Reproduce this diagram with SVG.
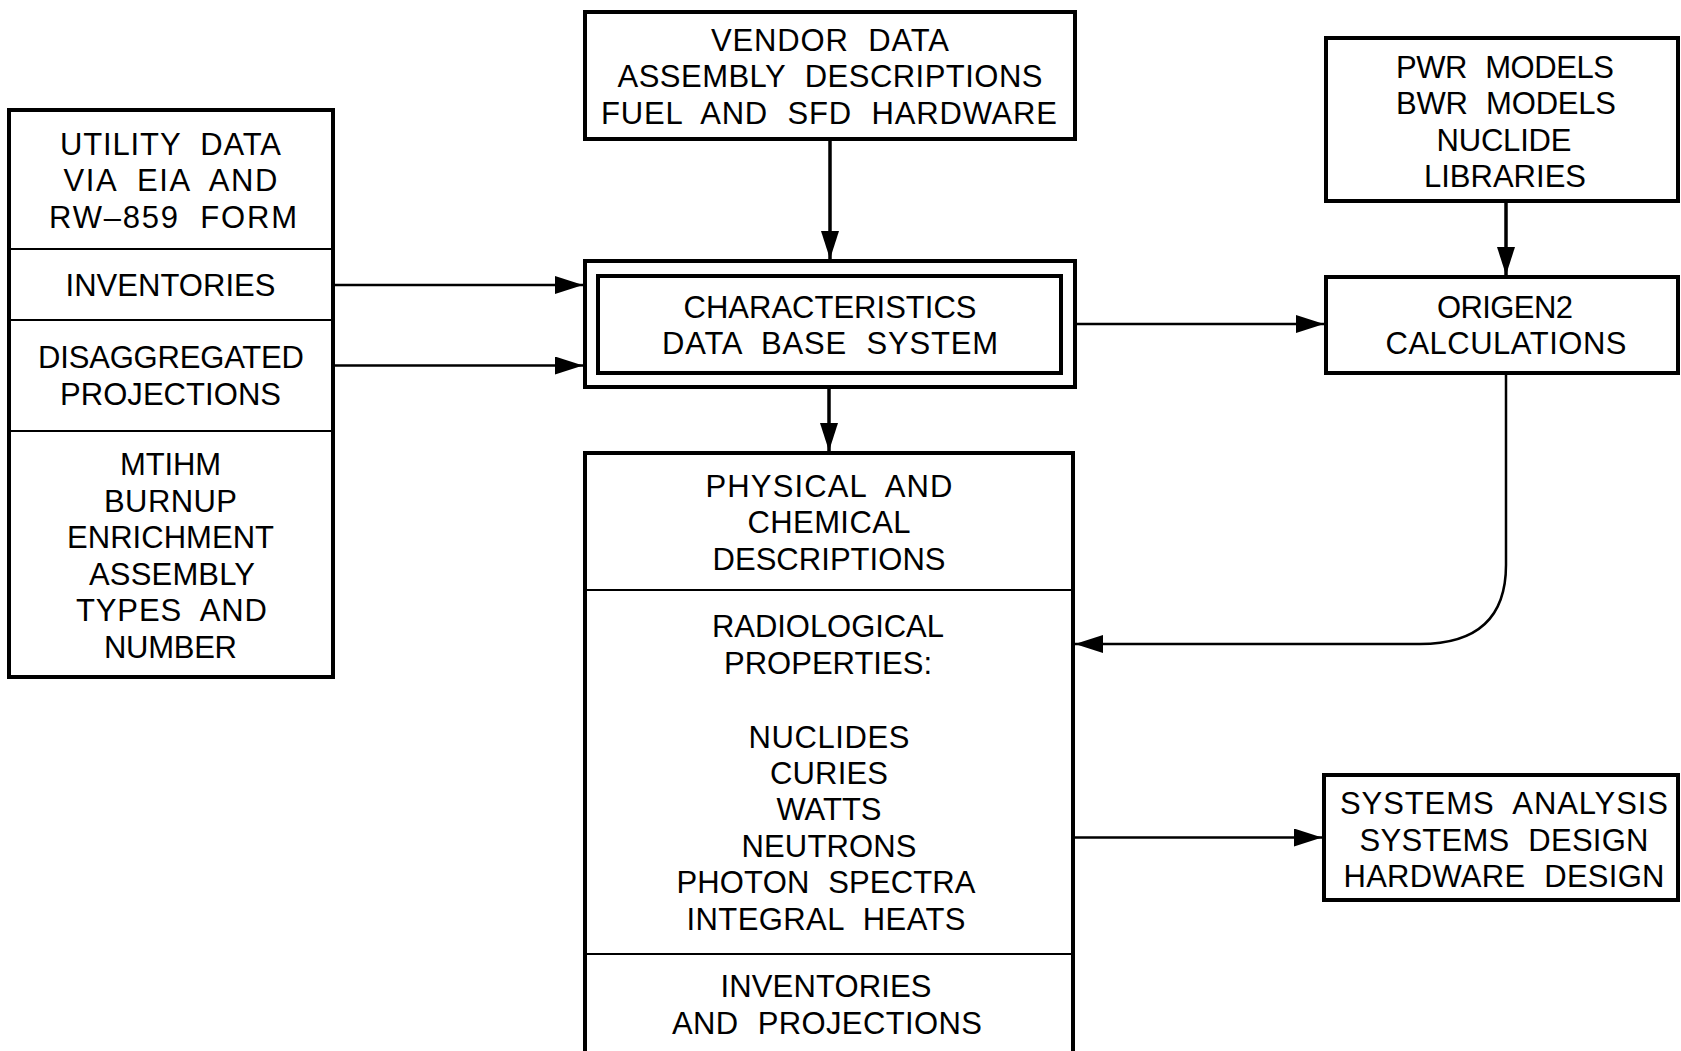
<svg xmlns="http://www.w3.org/2000/svg" width="1681" height="1051" viewBox="0 0 1681 1051">
<style>
text{font-family:"Liberation Sans",Arial,sans-serif;font-size:31px;fill:#000;text-anchor:middle;word-spacing:10px}
.box{fill:none;stroke:#000;stroke-width:4}
.div{fill:none;stroke:#000;stroke-width:2}
.c{fill:none;stroke:#000;stroke-width:2.5}
.cv{fill:none;stroke:#000;stroke-width:3.5}
</style>
<defs>
<marker id="ah" markerUnits="userSpaceOnUse" markerWidth="30" markerHeight="20" refX="28" refY="9" orient="auto">
<path d="M0,0 L28,9 L0,18 Z" fill="#000"/>
</marker>
</defs>
<rect width="1681" height="1051" fill="#fff"/>

<g id="utility">
<rect class="box" x="9" y="110" width="324" height="567"/>
<line class="div" x1="9" y1="249" x2="333" y2="249"/>
<line class="div" x1="9" y1="320" x2="333" y2="320"/>
<line class="div" x1="9" y1="431" x2="333" y2="431"/>
<text x="170.5" y="155" textLength="221" lengthAdjust="spacing">UTILITY DATA</text>
<text x="170.5" y="191" textLength="214" lengthAdjust="spacing">VIA EIA AND</text>
<text x="173" y="228" textLength="248" lengthAdjust="spacing">RW–859 FORM</text>
<text x="170.5" y="296" textLength="210" lengthAdjust="spacing">INVENTORIES</text>
<text x="171" y="368" textLength="266" lengthAdjust="spacing">DISAGGREGATED</text>
<text x="170.5" y="405" textLength="221" lengthAdjust="spacing">PROJECTIONS</text>
<text x="170.5" y="475" textLength="101" lengthAdjust="spacing">MTIHM</text>
<text x="170.5" y="512" textLength="133" lengthAdjust="spacing">BURNUP</text>
<text x="170.5" y="548" textLength="207" lengthAdjust="spacing">ENRICHMENT</text>
<text x="172" y="585" textLength="166" lengthAdjust="spacing">ASSEMBLY</text>
<text x="171.5" y="621" textLength="191" lengthAdjust="spacing">TYPES AND</text>
<text x="170.5" y="658" textLength="133" lengthAdjust="spacing">NUMBER</text>
</g>

<g id="vendor">
<rect class="box" x="585" y="12" width="490" height="127"/>
<text x="830" y="51" textLength="238" lengthAdjust="spacing">VENDOR DATA</text>
<text x="830" y="87" textLength="425" lengthAdjust="spacing">ASSEMBLY DESCRIPTIONS</text>
<text x="829" y="124" textLength="456" lengthAdjust="spacing">FUEL AND SFD HARDWARE</text>
</g>

<g id="models">
<rect class="box" x="1326" y="38" width="352" height="163"/>
<text x="1505" y="78" textLength="218" lengthAdjust="spacing">PWR MODELS</text>
<text x="1506" y="114" textLength="220" lengthAdjust="spacing">BWR MODELS</text>
<text x="1504" y="151" textLength="135" lengthAdjust="spacing">NUCLIDE</text>
<text x="1505" y="187" textLength="162" lengthAdjust="spacing">LIBRARIES</text>
</g>

<g id="cdbs">
<rect class="box" x="585" y="261" width="490" height="126"/>
<rect class="box" x="598" y="276" width="463" height="97"/>
<text x="830" y="318" textLength="293" lengthAdjust="spacing">CHARACTERISTICS</text>
<text x="830" y="354" textLength="336" lengthAdjust="spacing">DATA BASE SYSTEM</text>
</g>

<g id="origen">
<rect class="box" x="1326" y="277" width="352" height="96"/>
<text x="1505" y="318" textLength="136" lengthAdjust="spacing">ORIGEN2</text>
<text x="1506" y="354" textLength="241" lengthAdjust="spacing">CALCULATIONS</text>
</g>

<g id="descriptions">
<rect class="box" x="585" y="453" width="488" height="620"/>
<line class="div" x1="585" y1="590" x2="1073" y2="590"/>
<line class="div" x1="585" y1="954" x2="1073" y2="954"/>
<text x="829" y="497" textLength="247" lengthAdjust="spacing">PHYSICAL AND</text>
<text x="829" y="533" textLength="163" lengthAdjust="spacing">CHEMICAL</text>
<text x="829" y="570" textLength="233" lengthAdjust="spacing">DESCRIPTIONS</text>
<text x="828" y="637" textLength="232" lengthAdjust="spacing">RADIOLOGICAL</text>
<text x="828" y="674" textLength="208" lengthAdjust="spacing">PROPERTIES:</text>
<text x="829" y="748" textLength="161" lengthAdjust="spacing">NUCLIDES</text>
<text x="829" y="784" textLength="118" lengthAdjust="spacing">CURIES</text>
<text x="829" y="820" textLength="105" lengthAdjust="spacing">WATTS</text>
<text x="829" y="857" textLength="175" lengthAdjust="spacing">NEUTRONS</text>
<text x="826" y="893" textLength="299" lengthAdjust="spacing">PHOTON SPECTRA</text>
<text x="826" y="930" textLength="279" lengthAdjust="spacing">INTEGRAL HEATS</text>
<text x="826" y="997" textLength="211" lengthAdjust="spacing">INVENTORIES</text>
<text x="827" y="1034" textLength="310" lengthAdjust="spacing">AND PROJECTIONS</text>
</g>

<g id="systems">
<rect class="box" x="1324" y="775" width="354" height="125"/>
<text x="1504" y="814" textLength="328" lengthAdjust="spacing">SYSTEMS ANALYSIS</text>
<text x="1504" y="851" textLength="289" lengthAdjust="spacing">SYSTEMS DESIGN</text>
<text x="1504" y="887" textLength="321" lengthAdjust="spacing">HARDWARE DESIGN</text>
</g>

<g id="connectors">
<line class="cv" x1="830" y1="139" x2="830" y2="259" marker-end="url(#ah)"/>
<line class="c" x1="333" y1="285" x2="583" y2="285" marker-end="url(#ah)"/>
<line class="c" x1="333" y1="365.5" x2="583" y2="365.5" marker-end="url(#ah)"/>
<line class="c" x1="1075" y1="324" x2="1324" y2="324" marker-end="url(#ah)"/>
<line class="cv" x1="1506" y1="201" x2="1506" y2="275" marker-end="url(#ah)"/>
<line class="cv" x1="829" y1="387" x2="829" y2="451" marker-end="url(#ah)"/>
<path class="c" d="M1506,373 L1506,565 Q1506,644 1420,644 L1075,644" marker-end="url(#ah)"/>
<line class="c" x1="1073" y1="837.5" x2="1322" y2="837.5" marker-end="url(#ah)"/>
</g>
</svg>
